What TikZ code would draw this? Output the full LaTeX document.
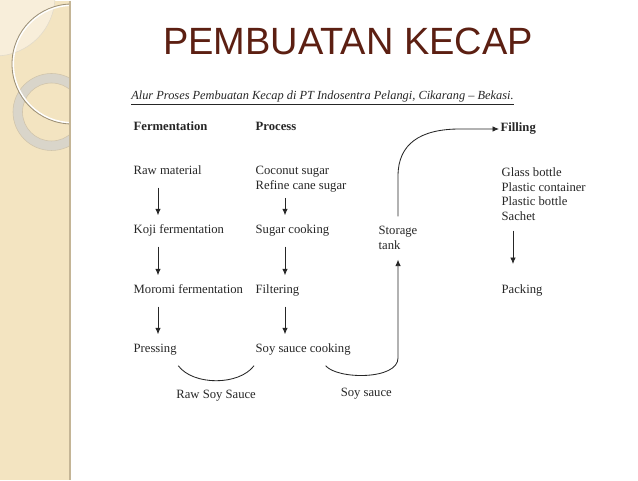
\documentclass[tikz,border=0pt]{standalone}
\usepackage{fontspec}
\setmainfont{Liberation Serif}
\newfontfamily\titlefont{Liberation Sans}
\usetikzlibrary{positioning,calc,arrows.meta}
\definecolor{stripbg}{HTML}{F3E4C1}
\definecolor{stripedge}{HTML}{C4B596}
\definecolor{leaf}{HTML}{F8EEDA}
\definecolor{ringgray}{HTML}{D9D5CA}
\definecolor{titlebrown}{HTML}{5C1F12}
\definecolor{ink}{HTML}{262626}

\begin{document}
\begin{tikzpicture}[x=0.025cm,y=-0.025cm,>={Latex[length=4.6pt,width=4pt]},
  txt/.style={anchor=west,inner xsep=1pt,inner ysep=7pt,text=ink,
    font=\fontsize{9}{10.4}\selectfont,text height=6pt,text depth=2pt},
  multi/.style={anchor=west,inner xsep=1pt,inner ysep=7pt,text=ink,align=left,
    font=\fontsize{9}{10.4}\selectfont},
  head/.style={txt,font=\fontsize{9}{10.4}\selectfont\bfseries},
  lab/.style={inner sep=0pt,text=ink,font=\fontsize{9}{10.4}\selectfont,
    text height=6pt,text depth=2pt},
  flow/.style={->,draw=ink,line width=0.6pt},
  curveline/.style={draw=ink,line width=0.6pt}]

      \fill[white] (0,0) rectangle (638,479);
      \fill[stripbg] (0,0) rectangle (70,479);
      \begin{scope}
        \clip (0,0) rectangle (69,479);
        \fill[leaf] (-5,-5) circle (60);
        \draw[stripedge!50,line width=0.4pt] (-5,-5) circle (60);
        \draw[ringgray,line width=6.7pt] (51.5,111) circle (33.75);
        \draw[stripedge!80,line width=0.4pt] (51.5,111) circle (38.5) (51.5,111) circle (29);
        \draw[white,line width=1.2pt] (72,63) circle (58.8);
        \draw[stripedge!80!black,line width=0.6pt] (72,63) circle (60);
      \end{scope}
      \draw[stripedge,line width=1.4pt] (70,0) -- (70,479);

      \node[font=\titlefont\fontsize{27}{30}\selectfont,text=titlebrown] (tt) at (348,40) {PEMBUATAN KECAP};
      \node[anchor=west,inner sep=0pt,text=ink,font=\fontsize{8.8}{10.4}\selectfont\itshape] (cap) at (131,97)
        {\underline{Alur Proses Pembuatan Kecap di PT Indosentra Pelangi, Cikarang -- Bekasi.}};

      \coordinate (A) at (132,127);
      \coordinate (B) at (254,127);
      \coordinate (C) at (499,128);
      \coordinate (D) at (132,171);
      \coordinate (E) at (254,178);
      \coordinate (F) at (500,193);
      \coordinate (G) at (132,230);
      \coordinate (H) at (254,230);
      \coordinate (I) at (377,237);
      \coordinate (J) at (132,290);
      \coordinate (K) at (254,290);
      \coordinate (L) at (500,290);
      \coordinate (M) at (132,349);
      \coordinate (N) at (254,349);

      \coordinate (X1) at (158,0);
      \coordinate (X2) at (285,0);
      \coordinate (X4) at (513,0);
      \coordinate (P) at (396,357);
      \coordinate (Q) at (396,175);
      \coordinate (R) at (460,128);

      \node[head] (aa) at (A) {Fermentation};
      \node[head] (bb) at (B) {Process};
      \node[head] (cc) at (C) {Filling};
      \node[txt] (dd) at (D) {Raw material};
      \node[multi] (ee) at (E) {Coconut sugar\\Refine cane sugar};
      \node[multi] (ff) at (F) {Glass bottle\\Plastic container\\Plastic bottle\\Sachet};
      \node[txt] (gg) at (G) {Koji fermentation};
      \node[txt] (hh) at (H) {Sugar cooking};
      \node[multi] (ii) at (I) {Storage\\tank};
      \node[txt] (jj) at (J) {Moromi fermentation};
      \node[txt] (kk) at (K) {Filtering};
      \node[txt] (ll) at (L) {Packing};
      \node[txt] (mm) at (M) {Pressing};
      \node[txt] (nn) at (N) {Soy sauce cooking};

      \draw[flow] (dd.south -| X1) -- (gg.north -| X1);
      \draw[flow] (gg.south -| X1) -- (jj.north -| X1);
      \draw[flow] (jj.south -| X1) -- (mm.north -| X1);
      \draw[flow,shorten <=-3pt] (ee.south -| X2) -- (hh.north -| X2);
      \draw[flow] (hh.south -| X2) -- (kk.north -| X2);
      \draw[flow] (kk.south -| X2) -- (nn.north -| X2);
      \draw[flow,shorten >=8pt] (ff.south -| X4) -- (ll.north -| X4);

      \draw[curveline] (mm.south east) .. controls +(15,20) and +(-15,20) ..
        node[lab,below=6pt] (rs) {Raw Soy Sauce} (nn.south west);
      \draw[flow] (nn.-35) .. controls +(12,14) and +(0,22) ..
        node[lab,below=9pt] (so) {Soy sauce} (ii.south |- P) -- (ii.south);
      \draw[flow] (ii.north) -- (ii.north |- Q) .. controls +(0,-32) and +(-40,0) .. (R) -- (cc.west);

\end{tikzpicture}
\end{document}
